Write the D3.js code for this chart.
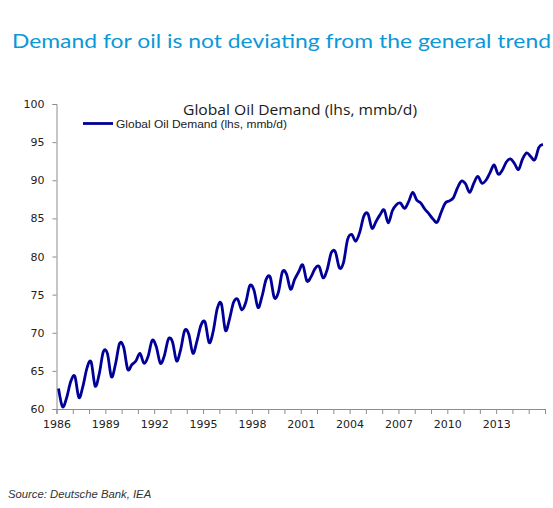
<!DOCTYPE html>
<html>
<head>
<meta charset="utf-8">
<script src="https://cdn.jsdelivr.net/npm/d3@7"></script>
<style>
  body { margin: 0; background: #fff; }
  svg { display: block; }
</style>
</head>
<body>
<div id="root"></div>
<script>
// ---------------------------- DATA ----------------------------
// Quarterly global oil demand, mb/d, 1986Q1 .. 2015Q4
const startYear = 1986;
const demand = [
    62.7, 60.3, 61.5, 63.6,   // 1986
    64.3, 61.5, 63.0, 65.4,   // 1987
    66.2, 63.0, 64.6, 67.5,   // 1988
    67.3, 64.2, 65.9, 68.6,   // 1989
    68.1, 65.2, 65.8, 66.3,   // 1990
    67.3, 66.0, 66.9, 69.0,   // 1991
    68.2, 66.0, 67.0, 69.2,   // 1992
    68.8, 66.3, 67.8, 70.3,   // 1993
    69.8, 67.3, 68.9, 71.0,   // 1994
    71.4, 68.7, 70.2, 73.2,   // 1995
    73.8, 70.3, 71.8, 74.0,   // 1996
    74.4, 73.0, 74.0, 76.2,   // 1997
    75.6, 73.3, 74.8, 77.0,   // 1998
    77.3, 74.6, 75.3, 78.0,   // 1999
    77.7, 75.7, 77.0, 78.0,   // 2000
    78.9, 76.8, 77.3, 78.4,   // 2001
    78.7, 77.2, 78.3, 80.5,   // 2002
    80.6, 78.5, 79.2, 82.2,   // 2003
    82.9, 82.0, 83.2, 85.3,   // 2004
    85.6, 83.7, 84.6, 85.5,   // 2005
    86.1, 84.4, 86.0, 86.8,   // 2006
    87.0, 86.3, 87.2, 88.4,   // 2007
    87.4, 87.0, 86.2, 85.6,   // 2008
    84.9, 84.5, 85.8, 87.0,   // 2009
    87.3, 87.7, 89.0, 89.9,   // 2010
    89.5, 88.4, 89.6, 90.5,   // 2011
    89.6, 90.0, 91.0, 92.0,   // 2012
    90.8, 91.3, 92.4, 92.8,   // 2013
    92.2, 91.4, 92.8, 93.6,   // 2014
    93.1, 92.7, 94.3, 94.7    // 2015
];
const yTicks = [60, 65, 70, 75, 80, 85, 90, 95, 100];
const xTickYears = d3.range(1986, 2017);              // one tick per year
const xLabelYears = [1986, 1989, 1992, 1995, 1998, 2001, 2004, 2007, 2010, 2013];

const chartTitle = "Demand for oil is not deviating from the general trend";
const plotTitle = "Global Oil Demand (lhs, mmb/d)";
const seriesName = "Global Oil Demand (lhs, mmb/d)";
const sourceText = "Source: Deutsche Bank, IEA";

// ---------------------------- SETUP ----------------------------
const width = 553;
const height = 508;
const lineColour = "#000099";
const axisColour = "#8c8c8c";
const tickFont = "DejaVu Sans, Verdana, sans-serif";

const svg = d3.select("#root")
    .append("svg")
    .attr("width", width)
    .attr("height", height);

const x = d3.scaleLinear()
    .domain([1986, 2016])
    .range([56.5, 545]);
const y = d3.scaleLinear()
    .domain([60, 100])
    .range([409, 104]);

// Top blue title
svg.append("text")
    .attr("x", 12)
    .attr("y", 48)
    .attr("textLength", 539)
    .attr("lengthAdjust", "spacingAndGlyphs")
    .style("font-family", "Lato, 'Open Sans', sans-serif")
    .style("font-size", "19px")
    .style("fill", "#0b98d8")
    .text(chartTitle);

// Plot title
svg.append("text")
    .attr("x", 183)
    .attr("y", 115)
    .attr("textLength", 234)
    .attr("lengthAdjust", "spacingAndGlyphs")
    .style("font-family", "'Open Sans', 'Noto Sans', sans-serif")
    .style("font-size", "14px")
    .style("fill", "#1a1a1a")
    .text(plotTitle);

// ---------------------------- AXES ----------------------------
const yAxis = svg.append("g")
    .attr("transform", "translate(" + x(1986) + ",0)")
    .call(d3.axisLeft(y).tickValues(yTicks).tickSize(4).tickPadding(8));

const xAxis = svg.append("g")
    .attr("transform", "translate(0," + y(60) + ")")
    .call(d3.axisBottom(x)
        .tickValues(xTickYears)
        .tickSize(5)
        .tickPadding(6)
        .tickFormat(d => xLabelYears.includes(d) ? d : ""));

[xAxis, yAxis].forEach(g => {
    g.selectAll("path, line").attr("stroke", axisColour);
    g.selectAll("text")
        .style("font-family", tickFont)
        .style("font-size", "11px")
        .style("fill", "#222");
});

// ---------------------------- LINE ----------------------------
// Excel-style smoothed line (uniform Catmull-Rom)
const line = d3.line()
    .x((d, i) => x(startYear + (i + 0.5) / 4))
    .y(d => y(d))
    .curve(d3.curveCatmullRom.alpha(0));

svg.append("path")
    .datum(demand)
    .attr("d", line)
    .attr("fill", "none")
    .attr("stroke", lineColour)
    .attr("stroke-width", 2.8)
    .attr("stroke-linejoin", "round");

// ---------------------------- LEGEND ----------------------------
svg.append("line")
    .attr("x1", 83)
    .attr("x2", 113)
    .attr("y1", 123.5)
    .attr("y2", 123.5)
    .attr("stroke", lineColour)
    .attr("stroke-width", 2.8);
svg.append("text")
    .attr("x", 116)
    .attr("y", 127.5)
    .attr("textLength", 171)
    .attr("lengthAdjust", "spacingAndGlyphs")
    .style("font-family", "'Liberation Sans', Arial, sans-serif")
    .style("font-size", "11px")
    .style("fill", "#222")
    .text(seriesName);

// ---------------------------- SOURCE ----------------------------
svg.append("text")
    .attr("x", 8)
    .attr("y", 498)
    .style("font-family", "'Liberation Sans', Arial, sans-serif")
    .style("font-size", "11.3px")
    .style("font-style", "italic")
    .style("fill", "#333")
    .text(sourceText);
</script>
</body>
</html>
